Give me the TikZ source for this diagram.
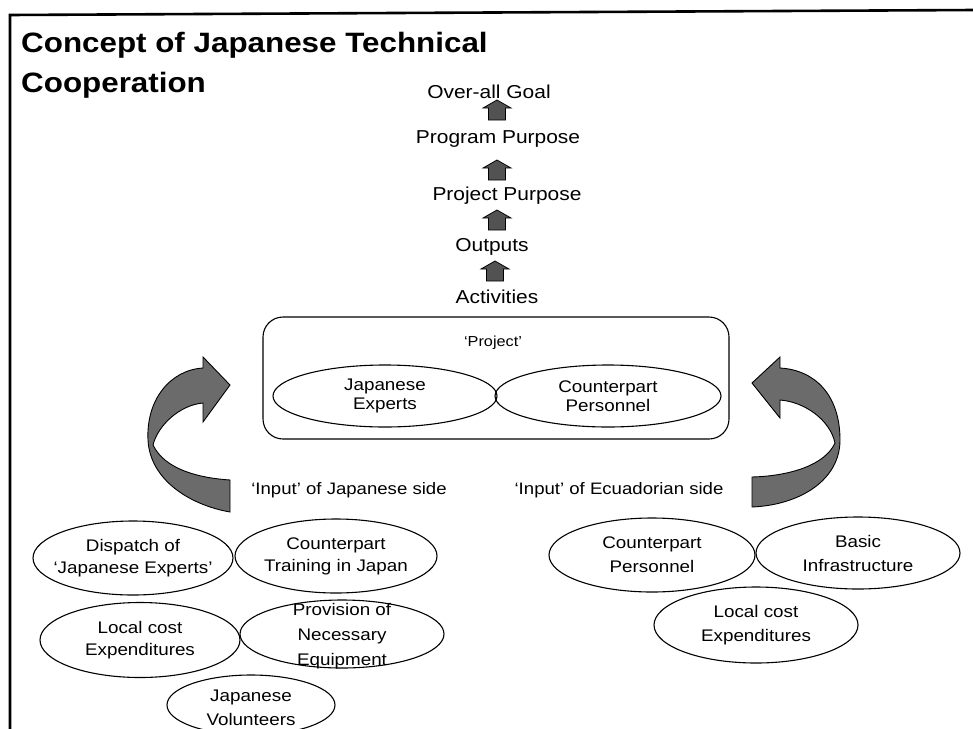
\documentclass[tikz,border=0pt]{standalone}
\usepackage{fontspec}
\setmainfont{Liberation Sans}[FakeStretch=1.12]
\usetikzlibrary{shapes.geometric}

\begin{document}
\begin{tikzpicture}[x=1pt,y=-1pt,
  head/.style={font=\fontsize{18.7}{22}\selectfont, inner sep=0pt},
  ell/.style={ellipse, draw, line width=1.1pt, inner sep=0pt},
  etext/.style={inner sep=0pt, align=center, font=\fontsize{16.8}{22}\selectfont},
  sidelbl/.style={font=\fontsize{16.6}{20}\selectfont, inner sep=0pt},
  ribbon/.style={draw=black, line width=0.9pt, fill=black!58},
  uparrow/.pic={\draw[line width=0.8pt, fill=black!68]
     (-8.5,10) -- (-8.5,-2) -- (-14,-2) -- (0,-10) -- (14,-2) -- (8.5,-2) -- (8.5,10) -- cycle;}
]
\useasboundingbox (0,0) rectangle (973,728);

% page frame
\draw[line width=2.6pt] (10,730) -- (10,15) -- (975,10);

% title
\node[anchor=base west, inner sep=0pt, font=\fontsize{28}{40}\selectfont\bfseries] (title1) at (21,52) {Concept of Japanese Technical};
\node[anchor=base west, inner sep=0pt, font=\fontsize{28}{40}\selectfont\bfseries] (title2) at (21,92) {Cooperation};

% hierarchy of goals
\node[head] (goal) at (489,92) {Over-all Goal};
\node[head] (prog) at (498,139) {Program Purpose};
\node[head] (ppur) at (507,196) {Project Purpose};
\node[head] (outp) at (492,247) {Outputs};
\node[head] (act)  at (497,297) {Activities};

\pic at (497,110) {uparrow};
\pic at (497,170) {uparrow};
\pic at (497,220) {uparrow};
\pic at (495,271) {uparrow};

% the project
\node[draw, line width=1.1pt, rounded corners=20pt, minimum width=466pt, minimum height=122pt] (project) at (496,378) {};
\node[inner sep=0pt, font=\fontsize{14.5}{16}\selectfont] (projlbl) at (493,343) {`Project'};
\node[ell, minimum width=224pt, minimum height=62pt] (pjexp) at (385,396) {};
\node[etext, font=\fontsize{16.8}{19}\selectfont] at (pjexp) {Japanese\\Experts};
\node[ell, minimum width=226pt, minimum height=62pt] (pcpers) at (608,396) {};
\node[etext, font=\fontsize{16.8}{19}\selectfont] at (pcpers) {Counterpart\\Personnel};

% curved input arrows
\path[ribbon] (230,480) -- (230,512)
  .. controls (190,505) and (150,480) .. (148,440)
  .. controls (146,400) and (170,370) .. (203,368)
  -- (203,357) -- (230,385) -- (203,422) -- (203,403)
  .. controls (180,405) and (158,425) .. (153,445)
  .. controls (165,470) and (200,478) .. (230,480) -- cycle;
\path[ribbon] (752,477) -- (752,507)
  .. controls (800,505) and (840,480) .. (840,440)
  .. controls (840,395) and (815,370) .. (780,368)
  -- (780,357) -- (752,383) -- (780,418) -- (780,400)
  .. controls (805,402) and (830,420) .. (835,443)
  .. controls (825,465) and (790,476) .. (752,477) -- cycle;

% inputs
\node[sidelbl] (injp) at (349,490) {`Input' of Japanese side};
\node[sidelbl] (inec) at (619,490) {`Input' of Ecuadorian side};

\node[ell, minimum width=200pt, minimum height=74pt] (dispatch) at (133,558) {};
\node[etext] at (dispatch) {Dispatch of\\`Japanese Experts'};
\node[ell, minimum width=202pt, minimum height=74pt] (cptrain) at (336,556) {};
\node[etext] at (cptrain) {Counterpart\\Training in Japan};
\node[ell, minimum width=200pt, minimum height=75pt] (lcostL) at (140,640) {};
\node[etext] at (lcostL) {Local cost\\Expenditures};
\node[ell, minimum width=204pt, minimum height=68pt] (provision) at (342,634) {};
\node[etext, font=\fontsize{16.8}{25}\selectfont] at (342,636) {Provision of\\Necessary\\Equipment};
\node[ell, minimum width=168pt, minimum height=60pt] (jvol) at (251,705) {};
\node[etext, font=\fontsize{16.8}{24}\selectfont] at (251,708) {Japanese\\Volunteers};

\node[ell, minimum width=206pt, minimum height=74pt] (cpers) at (652,555) {};
\node[etext, font=\fontsize{16.8}{24}\selectfont] at (cpers) {Counterpart\\Personnel};
\node[ell, minimum width=204pt, minimum height=72pt] (basic) at (858,553) {};
\node[etext, font=\fontsize{16.8}{24}\selectfont] at (basic) {Basic\\Infrastructure};
\node[ell, minimum width=204pt, minimum height=76pt] (lcostR) at (756,625) {};
\node[etext, font=\fontsize{16.8}{24}\selectfont] at (lcostR) {Local cost\\Expenditures};
\end{tikzpicture}
\end{document}
